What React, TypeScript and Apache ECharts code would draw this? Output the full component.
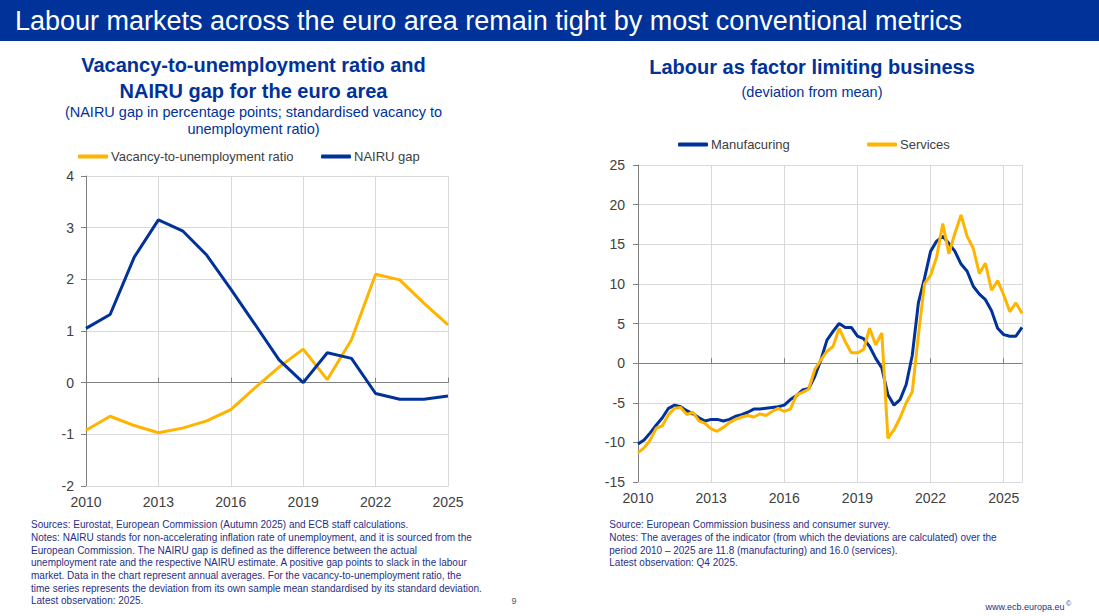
import React, { useEffect, useRef } from "react";
import * as echarts from "echarts";

// ---------- Data ----------
const annualYears = [2010, 2011, 2012, 2013, 2014, 2015, 2016, 2017, 2018, 2019, 2020, 2021, 2022, 2023, 2024, 2025];
const vacancyRatio = [-0.92, -0.65, -0.83, -0.97, -0.88, -0.74, -0.52, -0.1, 0.3, 0.65, 0.06, 0.83, 2.1, 1.99, 1.54, 1.12];
const nairuGap = [1.05, 1.32, 2.43, 3.15, 2.94, 2.47, 1.81, 1.13, 0.44, 0.0, 0.58, 0.47, -0.21, -0.32, -0.32, -0.26];

const quarterYears = [2010, 2011, 2012, 2013, 2014, 2015, 2016, 2017, 2018, 2019, 2020, 2021, 2022, 2023, 2024, 2025];
const quarterNames = ["Q1", "Q2", "Q3", "Q4"];
const quarters: string[] = [];
quarterYears.forEach((y) => quarterNames.forEach((q) => quarters.push(y + " " + q)));

const manufacturing = [
  -10.2, -9.7, -8.8, -7.8, -6.9, -5.7, -5.3, -5.5, -6.0, -6.4, -6.9, -7.3, -7.1, -7.1, -7.3, -7.1,
  -6.7, -6.5, -6.2, -5.8, -5.8, -5.7, -5.6, -5.5, -5.3, -4.6, -4.1, -3.4, -3.2, -1.7, 0.4, 2.9,
  4.0, 5.0, 4.5, 4.5, 3.4, 3.1, 2.1, 0.6, -0.6, -4.0, -5.3, -4.6, -2.7, 1.0, 7.6, 10.7,
  14.1, 15.4, 16.0, 15.1, 14.1, 12.5, 11.6, 9.7, 8.7, 8.0, 6.6, 4.4, 3.6, 3.4, 3.4, 4.5,
];
const services = [
  -11.3, -10.7, -9.7, -8.2, -7.9, -6.5, -5.7, -5.6, -6.5, -6.2, -7.3, -7.6, -8.3, -8.6, -8.1, -7.5,
  -7.1, -6.8, -6.6, -6.8, -6.4, -6.6, -6.1, -5.7, -6.1, -5.8, -4.0, -3.7, -3.3, -0.8, 0.4, 1.5,
  2.1, 4.4, 2.7, 1.3, 1.3, 1.7, 4.4, 2.3, 3.8, -9.5, -8.4, -6.9, -5.0, -3.6, 3.5, 10.0,
  11.1, 13.4, 17.6, 13.8, 16.4, 18.7, 16.0, 14.5, 11.3, 12.6, 9.2, 10.4, 8.6, 6.5, 7.6, 6.3,
];

const headerTitle = "Labour markets across the euro area remain tight by most conventional metrics";
const leftTitle = ["Vacancy-to-unemployment ratio and", "NAIRU gap for the euro area"];
const leftSubtitle = ["(NAIRU gap in percentage points; standardised vacancy to", "unemployment ratio)"];
const rightTitle = "Labour as factor limiting business";
const rightSubtitle = "(deviation from mean)";
const leftNotes = [
  "Sources: Eurostat, European Commission (Autumn 2025) and ECB staff calculations.",
  "Notes: NAIRU stands for non-accelerating inflation rate of unemployment, and it is sourced from the",
  "European Commission. The NAIRU gap is defined as the difference between the actual",
  "unemployment rate and the respective NAIRU estimate. A positive gap points to slack in the labour",
  "market. Data in the chart represent annual averages. For the vacancy-to-unemployment ratio, the",
  "time series represents the deviation from its own sample mean standardised by its standard deviation.",
  "Latest observation: 2025.",
];
const rightNotes = [
  "Source: European Commission business and consumer survey.",
  "Notes: The averages of the indicator (from which the deviations are calculated) over the",
  "period 2010 \u2013 2025 are 11.8 (manufacturing) and 16.0 (services).",
  "Latest observation: Q4 2025.",
];

// ---------- Styles ----------
const FONT = "Arial, 'Liberation Sans', sans-serif";
const BLUE = "#003299";
const YELLOW = "#FFB400";
const GRID = "#d9d9d9";
const AXIS = "#808080";
const LABEL = "#404040";
const NOTE = "#1f2f86";

export default function App() {
  const ref = useRef<HTMLDivElement>(null);

  useEffect(() => {
    if (!ref.current) return;
    const chart = echarts.init(ref.current, undefined, { renderer: "svg" });

    const axisLabel = { color: LABEL, fontSize: 14, fontFamily: FONT };
    const qTickInterval = (i: number) => i % 12 === 0;
    const qSplitInterval = (i: number) => i % 12 === 0 || i === quarters.length - 1;

    const legend = (name: string, left: number, top: number) => ({
      data: [name],
      left,
      top,
      padding: 0,
      icon: "roundRect",
      itemWidth: 30,
      itemHeight: 4,
      textStyle: { color: LABEL, fontSize: 13, fontFamily: FONT, padding: [0, 0, 0, -2] },
      selectedMode: false,
    });

    const text = (t: string, x: number, y: number, size: number, color: string, opts: any = {}) => ({
      type: "text",
      x,
      y,
      silent: true,
      style: {
        text: t,
        fill: color,
        font: `${opts.bold ? "bold " : ""}${size}px ${FONT}`,
        textAlign: opts.align || "left",
        textVerticalAlign: "middle",
      },
    });

    const graphics: any[] = [
      { type: "rect", shape: { x: 0, y: 0, width: 1099, height: 41 }, style: { fill: BLUE }, silent: true },
      text(headerTitle, 15, 20.5, 27, "#ffffff"),
      text(leftTitle[0], 253.5, 65, 20, BLUE, { bold: true, align: "center" }),
      text(leftTitle[1], 253.5, 91, 20, BLUE, { bold: true, align: "center" }),
      text(leftSubtitle[0], 253.5, 111.5, 14.5, BLUE, { align: "center" }),
      text(leftSubtitle[1], 253.5, 128.5, 14.5, BLUE, { align: "center" }),
      text(rightTitle, 812, 67, 20, BLUE, { bold: true, align: "center" }),
      text(rightSubtitle, 812, 91.5, 14.5, BLUE, { align: "center" }),
      ...leftNotes.map((l, i) => text(l, 31, 524.8 + 12.67 * i, 10, NOTE)),
      ...rightNotes.map((l, i) => text(l, 609.3, 524.8 + 12.67 * i, 10, NOTE)),
      text("9", 511.5, 601, 9, "#595959"),
      text("www.ecb.europa.eu", 1064.5, 607, 9, NOTE, { align: "right" }),
      text("\u00a9", 1066, 603.5, 7, NOTE),
    ];

    chart.setOption({
      animation: false,
      backgroundColor: "#ffffff",
      textStyle: { fontFamily: FONT },
      grid: [
        { left: 86, top: 176, width: 362, height: 310 },
        { left: 638, top: 165, width: 384, height: 317 },
      ],
      legend: [
        legend("Vacancy-to-unemployment ratio", 78, 150),
        legend("NAIRU gap", 321, 150),
        legend("Manufacuring", 678, 138),
        legend("Services", 867, 138),
      ],
      xAxis: [
        {
          type: "value",
          gridIndex: 0,
          min: 2010,
          max: 2025,
          interval: 3,
          axisLine: { onZero: false, lineStyle: { color: GRID, width: 1 } },
          axisTick: { show: false },
          axisLabel: { ...axisLabel, margin: 9, formatter: (v: number) => String(v) },
          splitLine: { show: true, lineStyle: { color: GRID, width: 1 } },
        },
        {
          type: "value",
          gridIndex: 0,
          min: 2010,
          max: 2025,
          interval: 3,
          axisLine: { onZero: true, lineStyle: { color: AXIS, width: 1 } },
          axisTick: { show: true, length: 5, lineStyle: { color: AXIS } },
          axisLabel: { show: false },
          splitLine: { show: false },
        },
        {
          type: "category",
          gridIndex: 1,
          data: quarters,
          boundaryGap: false,
          axisLine: { onZero: false, lineStyle: { color: GRID, width: 1 } },
          axisTick: { show: false },
          axisLabel: {
            ...axisLabel,
            margin: 9,
            interval: qTickInterval,
            formatter: (v: string) => v.slice(0, 4),
          },
          splitLine: { show: true, interval: qSplitInterval, lineStyle: { color: GRID, width: 1 } },
        },
        {
          type: "category",
          gridIndex: 1,
          data: quarters,
          boundaryGap: false,
          axisLine: { onZero: true, lineStyle: { color: AXIS, width: 1 } },
          axisTick: { show: true, length: 5, interval: qTickInterval, lineStyle: { color: AXIS } },
          axisLabel: { show: false },
          splitLine: { show: false },
        },
      ],
      yAxis: [
        {
          type: "value",
          gridIndex: 0,
          min: -2,
          max: 4,
          interval: 1,
          axisLine: { show: true, lineStyle: { color: AXIS, width: 1 } },
          axisTick: { show: true, length: 5, lineStyle: { color: AXIS } },
          axisLabel: { ...axisLabel, margin: 12 },
          splitLine: { show: true, lineStyle: { color: GRID, width: 1 } },
        },
        {
          type: "value",
          gridIndex: 1,
          min: -15,
          max: 25,
          interval: 5,
          axisLine: { show: true, lineStyle: { color: AXIS, width: 1 } },
          axisTick: { show: true, length: 5, lineStyle: { color: AXIS } },
          axisLabel: { ...axisLabel, margin: 13 },
          splitLine: { show: true, lineStyle: { color: GRID, width: 1 } },
        },
      ],
      series: [
        {
          name: "Vacancy-to-unemployment ratio",
          type: "line",
          xAxisIndex: 0,
          yAxisIndex: 0,
          data: annualYears.map((y, i) => [y, vacancyRatio[i]]),
          symbol: "none",
          color: YELLOW,
          lineStyle: { width: 3, color: YELLOW },
        },
        {
          name: "NAIRU gap",
          type: "line",
          xAxisIndex: 0,
          yAxisIndex: 0,
          data: annualYears.map((y, i) => [y, nairuGap[i]]),
          symbol: "none",
          color: BLUE,
          lineStyle: { width: 3, color: BLUE },
        },
        {
          name: "Manufacuring",
          type: "line",
          xAxisIndex: 2,
          yAxisIndex: 1,
          data: manufacturing,
          symbol: "none",
          color: BLUE,
          lineStyle: { width: 3, color: BLUE },
        },
        {
          name: "Services",
          type: "line",
          xAxisIndex: 2,
          yAxisIndex: 1,
          data: services,
          symbol: "none",
          color: YELLOW,
          lineStyle: { width: 3, color: YELLOW },
        },
      ],
      graphic: graphics,
    });

    return () => chart.dispose();
  }, []);

  return (
    <div
      ref={ref}
      style={{ position: "fixed", left: 0, top: 0, width: 1099, height: 616, background: "#ffffff" }}
    />
  );
}
